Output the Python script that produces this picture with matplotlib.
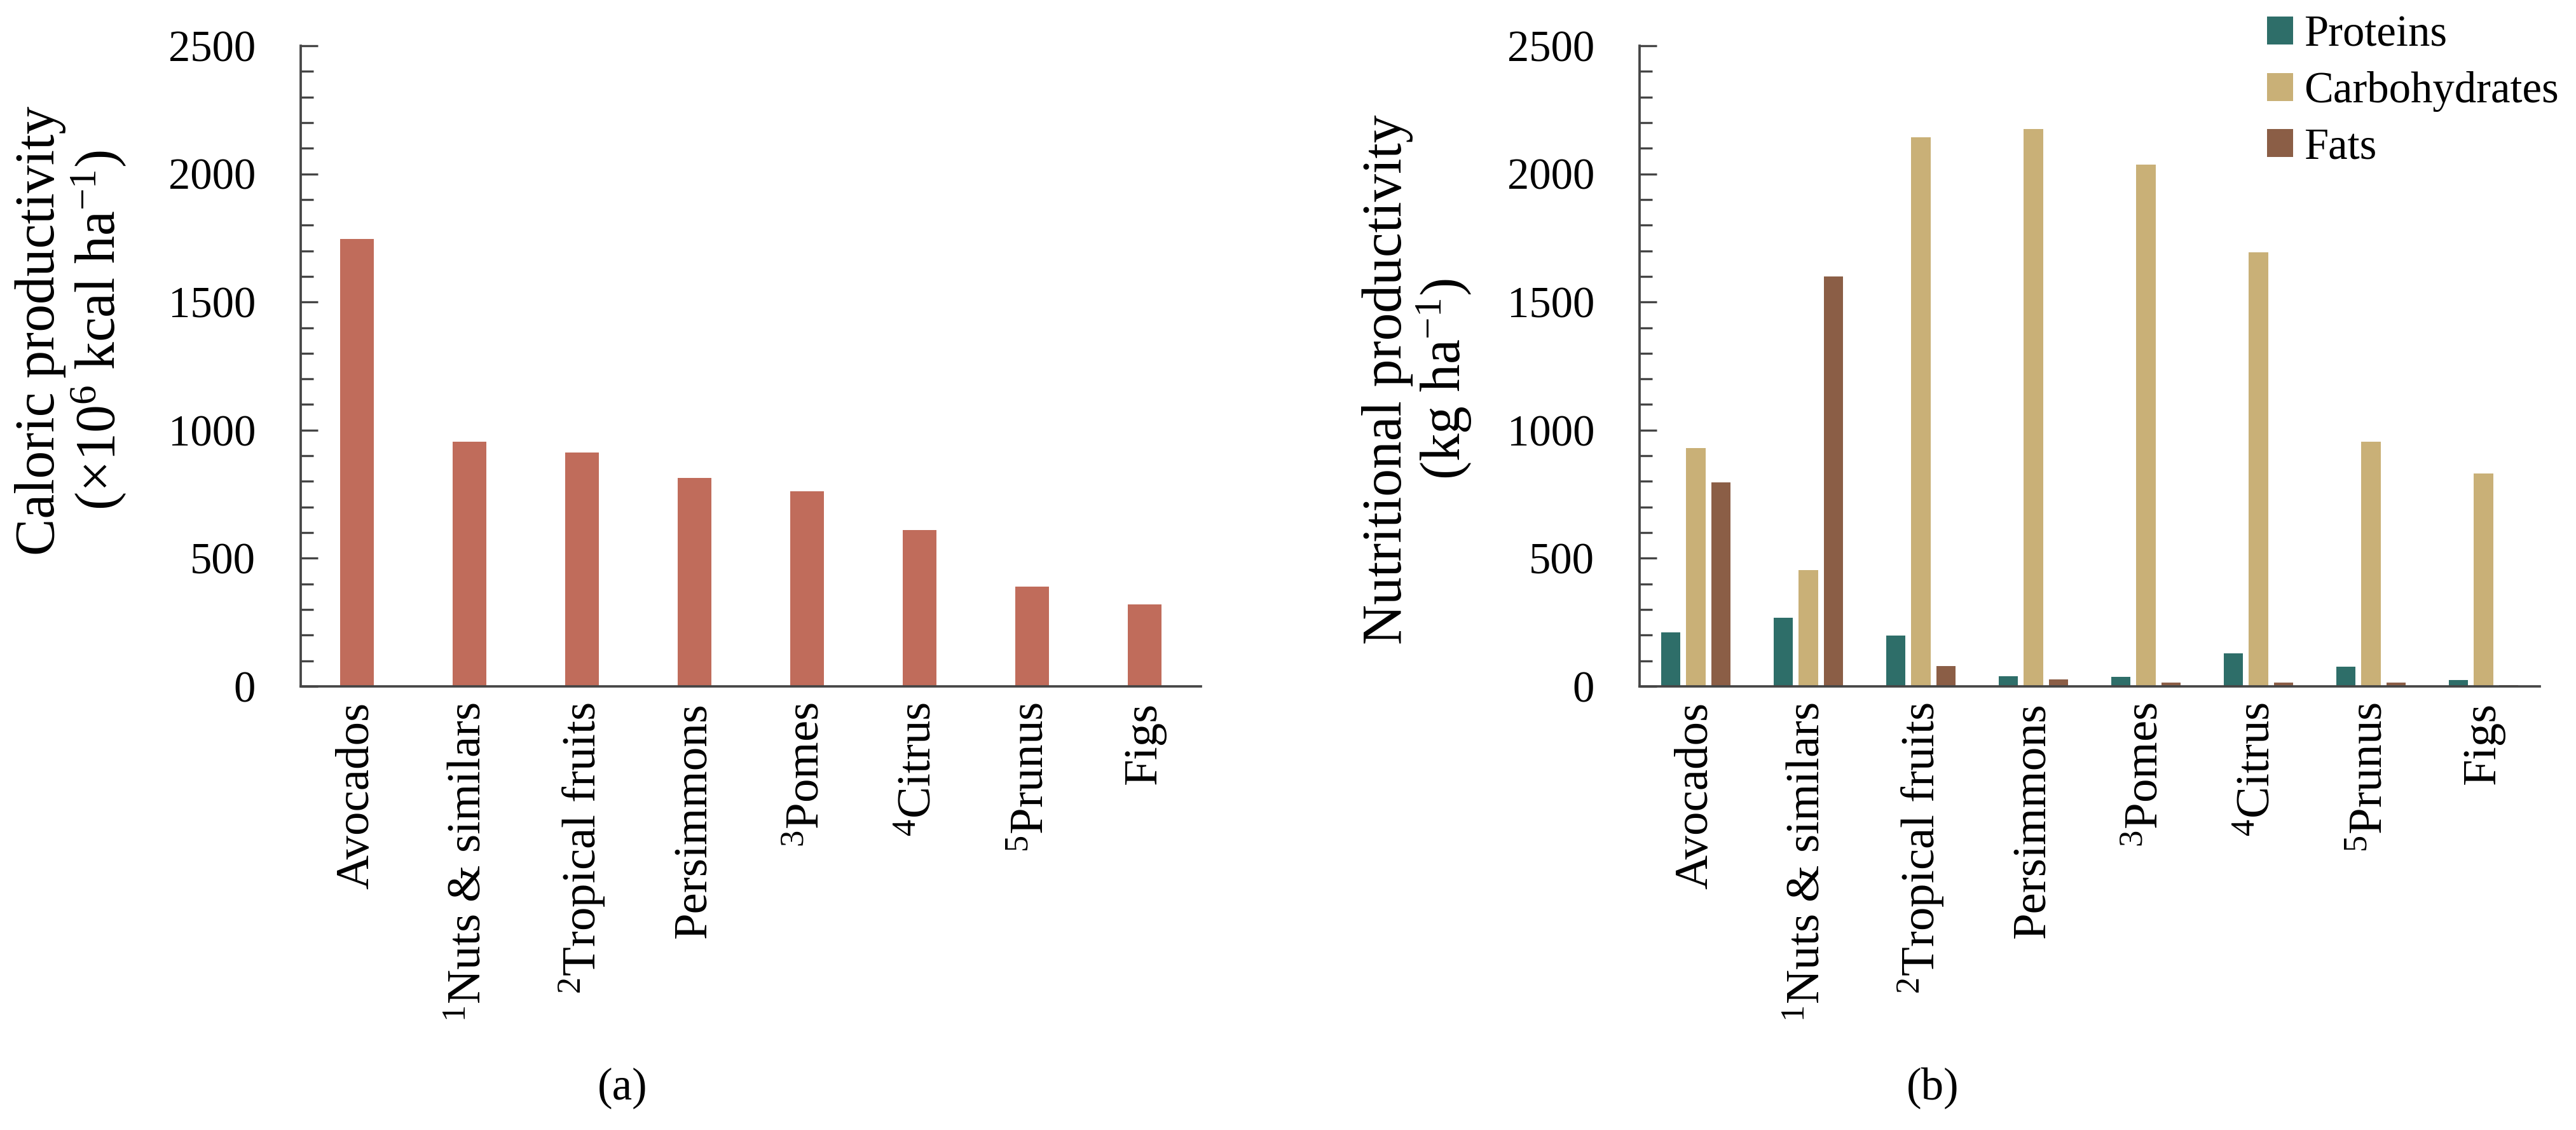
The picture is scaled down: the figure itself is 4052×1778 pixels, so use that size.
import numpy as np
import matplotlib
matplotlib.use("Agg")
import matplotlib.pyplot as plt
from matplotlib.ticker import MultipleLocator
from matplotlib.patches import Patch

plt.rcParams['font.family'] = ['Liberation Serif', 'DejaVu Serif']
plt.rcParams['mathtext.fontset'] = 'custom'
plt.rcParams['mathtext.rm'] = 'Liberation Serif'
plt.rcParams['mathtext.it'] = 'Liberation Serif:italic'
plt.rcParams['mathtext.bf'] = 'Liberation Serif:bold'

# ---- data ----
categories = ['Avocados', r'$^{1}$Nuts & similars', r'$^{2}$Tropical fruits', 'Persimmons',
              r'$^{3}$Pomes', r'$^{4}$Citrus', r'$^{5}$Prunus', 'Figs']
caloric = [1747, 954, 913, 813, 762, 609, 390, 319]
proteins = [212, 268, 199, 40, 38, 128, 76, 25]
carbohydrates = [929, 455, 2143, 2176, 2037, 1695, 956, 830]
fats = [796, 1599, 80, 28, 15, 15, 15, 6]
series_names = ['Proteins', 'Carbohydrates', 'Fats']
yticks = [0, 500, 1000, 1500, 2000, 2500]

# ---- style ----
c_cal = '#C06C5B'
c_series = ['#2E6E69', '#C9B077', '#8B5E46']
spine_c = '#454545'

W, H = 4052, 1778
dpi = 300
fig = plt.figure(figsize=(W / dpi, H / dpi), dpi=dpi)

def fx(px):
    return px / W

def fy(py):
    return 1 - py / H

ax_top, ax_bot = 72, 1080
axL = fig.add_axes([fx(473), fy(ax_bot), fx(1889) - fx(473), fy(ax_top) - fy(ax_bot)])
axR = fig.add_axes([fx(2579), fy(ax_bot), fx(3995) - fx(2579), fy(ax_top) - fy(ax_bot)])

x = np.arange(len(categories))
axL.bar(x, caloric, width=0.30, color=c_cal)

bw = 0.17
off = 0.222
for i, (vals, col) in enumerate(zip([proteins, carbohydrates, fats], c_series)):
    axR.bar(x + (i - 1) * off, vals, width=bw, color=col, label=series_names[i])

for ax in (axL, axR):
    ax.set_xlim(-0.5, len(categories) - 0.5)
    ax.set_ylim(0, 2500)
    ax.set_yticks(yticks)
    ax.yaxis.set_minor_locator(MultipleLocator(100))
    ax.spines['top'].set_visible(False)
    ax.spines['right'].set_visible(False)
    for s in ('left', 'bottom'):
        ax.spines[s].set_color(spine_c)
        ax.spines[s].set_linewidth(0.9)
    ax.tick_params(axis='y', which='major', direction='in', length=6.5, width=0.8,
                   color=spine_c, labelsize=16.5, pad=17)
    ax.tick_params(axis='y', which='minor', direction='in', length=4.8, width=0.8,
                   color=spine_c)
    ax.set_xticks(x)
    ax.set_xticklabels(categories, rotation=90, fontsize=18)
    ax.tick_params(axis='x', length=0, pad=6)

# y labels
fig.text(fx(112), fy(520), 'Caloric productivity\n(×10$^{6}$ kcal ha$^{-1}$)',
         rotation=90, ha='center', va='center', multialignment='center',
         fontsize=21, linespacing=1.05)
fig.text(fx(2230), fy(597), 'Nutritional productivity\n(kg ha$^{-1}$)',
         rotation=90, ha='center', va='center', multialignment='center',
         fontsize=21, linespacing=1.05)

# panel labels
fig.text(fx(979), fy(1712), '(a)', ha='center', va='center', fontsize=17)
fig.text(fx(3040), fy(1712), '(b)', ha='center', va='center', fontsize=17)

# legend
handles = [Patch(facecolor=c, edgecolor='none') for c in c_series]
fig.legend(handles, series_names, loc='upper left',
           bbox_to_anchor=(fx(3566), fy(24)), frameon=False, fontsize=16.5,
           borderpad=0, borderaxespad=0, handlelength=0.6, handleheight=0.6,
           handletextpad=0.25, labelspacing=0.36)

fig.savefig('out.png', dpi=dpi)
